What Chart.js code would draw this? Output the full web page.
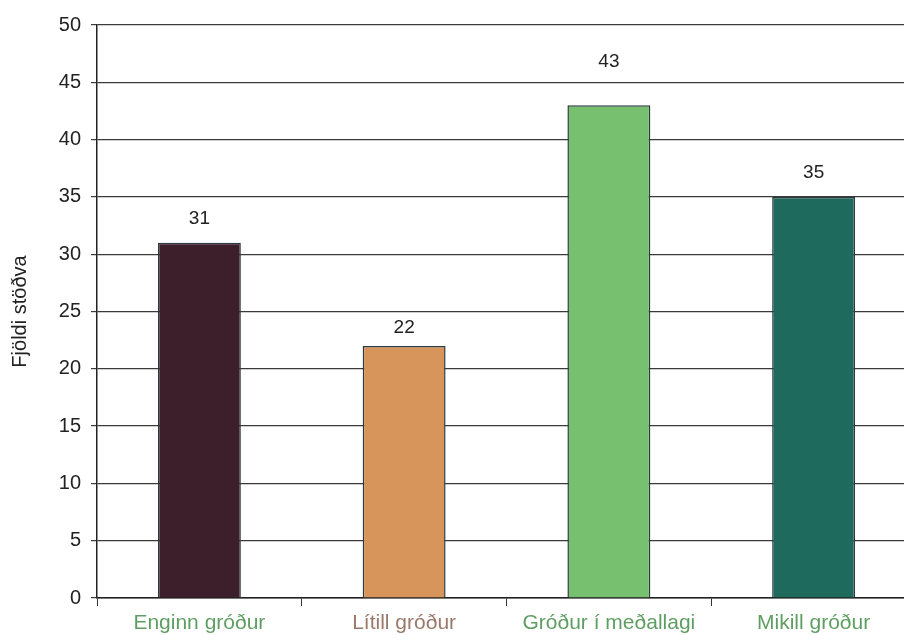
<!DOCTYPE html>
<html>
<head>
<meta charset="utf-8">
<script src="https://cdn.jsdelivr.net/npm/chart.js@4/dist/chart.umd.min.js"></script>
<style>
  html, body { margin: 0; padding: 0; background: #fff; overflow: hidden; }
  #wrap { width: 920px; height: 635px; }
</style>
</head>
<body>
<div id="wrap"><canvas id="bar_chart"></canvas></div>
<script>
// data
var categories = ['Enginn gróður', 'Lítill gróður', 'Gróður í meðallagi', 'Mikill gróður'];
var stationCounts = [31, 22, 43, 35];
var barColors = ['#3c1f2b', '#d8955b', '#76c070', '#1e6a5d'];
var labelColors = ['#5f9e63', '#9a786a', '#5f9e63', '#5f9e63'];
var yTicks = [0, 5, 10, 15, 20, 25, 30, 35, 40, 45, 50];
var yTitle = 'Fjöldi stöðva';

// how far above each bar its number sits (px), as in the original
var labelLift = [24, 18, 43, 24];

var fontFamily = '"Liberation Sans", Arial, sans-serif';

// draw the numbers over each bar
var valueLabels = {
    id: 'valueLabels',
    afterDatasetsDraw: function(chart) {
        var ctx = chart.ctx;
        var meta = chart.getDatasetMeta(0);
        ctx.save();
        ctx.font = '19px ' + fontFamily;
        ctx.fillStyle = '#222';
        ctx.textAlign = 'center';
        ctx.textBaseline = 'middle';
        meta.data.forEach(function(bar, i) {
            ctx.fillText(String(stationCounts[i]), bar.x, bar.y - labelLift[i]);
        });
        ctx.restore();
    }
};

var config = {
    type: 'bar',
    data: {
        labels: categories,
        datasets: [{
            data: stationCounts,
            backgroundColor: barColors,
            borderColor: '#2b3a3f',
            borderWidth: 1.5,
            categoryPercentage: 1,
            barPercentage: 0.405
        }]
    },
    options: {
        responsive: true,
        maintainAspectRatio: false,
        animation: false,
        layout: { padding: { top: 25, right: 4, left: 0, bottom: 0 } },
        plugins: {
            legend: { display: false },
            tooltip: { enabled: false }
        },
        scales: {
            x: {
                grid: {
                    display: true,
                    drawOnChartArea: false,
                    drawTicks: true,
                    tickLength: 8,
                    color: '#333'
                },
                border: { display: true, color: '#222', width: 1.5 },
                ticks: {
                    color: labelColors,
                    font: { family: fontFamily, size: 21 },
                    padding: 5,
                    maxRotation: 0
                },
                afterFit: function(scale) { scale.height = 37; }
            },
            y: {
                min: 0,
                max: 50,
                afterBuildTicks: function(scale) {
                    scale.ticks = yTicks.map(function(v) { return { value: v }; });
                },
                grid: {
                    color: '#3a3a3a',
                    lineWidth: 1.2,
                    drawTicks: true,
                    tickLength: 6
                },
                border: { display: true, color: '#222', width: 1.5 },
                ticks: {
                    color: '#222',
                    font: { family: fontFamily, size: 20 },
                    padding: 10
                },
                title: {
                    display: true,
                    text: yTitle,
                    color: '#222',
                    font: { family: fontFamily, size: 20 },
                    padding: { top: 8, bottom: 0 }
                },
                afterFit: function(scale) { scale.width = 97; }
            }
        }
    },
    plugins: [valueLabels]
};

var barChart = new Chart(document.getElementById('bar_chart').getContext('2d'), config);
</script>
</body>
</html>
